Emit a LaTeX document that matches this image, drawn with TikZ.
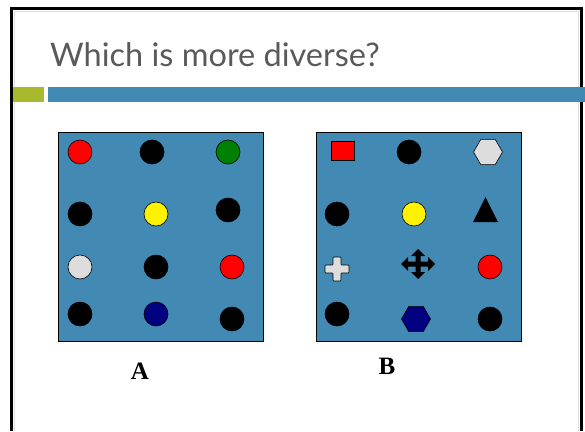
\documentclass[tikz,border=0pt]{standalone}
\usepackage{fontspec}
\usetikzlibrary{shapes.geometric}
\newfontfamily\titlefont{Lato}
\newfontfamily\labelfont{Liberation Serif}
\definecolor{slideblue}{RGB}{66,138,179}
\definecolor{slidegreen}{RGB}{169,185,45}
\definecolor{titlegray}{RGB}{90,90,90}
\definecolor{navy}{RGB}{0,0,128}
\definecolor{darkgreen}{RGB}{0,128,0}
\definecolor{pale}{RGB}{221,221,221}
\begin{document}
\begin{tikzpicture}[x=1pt,y=-1pt,
  dot/.style={circle,draw=black,line width=0.6pt,inner sep=0pt,minimum size=24pt},
  hexa/.style={regular polygon,regular polygon sides=6,draw=black,line width=0.6pt,inner sep=0pt,minimum size=29pt},
  panel/.style={draw=black,line width=1pt,fill=slideblue},
  letter/.style={font=\labelfont\bfseries\fontsize{25}{27}\selectfont}]
\useasboundingbox[fill=white] (0,0) rectangle (585,431);
% slide frame and bars
\draw[pale,line width=0.6pt] (14,431)--(14,11)--(578,11)--(578,431);
\draw[line width=3pt] (11.5,431)--(11.5,8.5)--(581.5,8.5)--(581.5,431);
\fill[slidegreen] (13,87) rectangle (44,102);
\fill[slideblue] (48,87) rectangle (585,102);
\node[anchor=base west,inner sep=0pt,text=titlegray,font=\titlefont\fontsize{32.5}{34}\selectfont] (title) at (50,66) {Which is more diverse?};
% panel A
\draw[panel] (58,132) rectangle (263,341);
\foreach \n/\x/\y/\c in {a1/80/152/red,a2/152/152/black,a3/228/152/darkgreen,
  a4/80/214/black,a5/156/214/yellow,a6/228/210/black,
  a7/80/267/pale,a8/156/267/black,a9/232/267/red,
  a10/80/314/black,a11/156/314/navy,a12/232/319/black}
  {\node[dot,fill=\c] (\n) at (\x,\y) {};}
% panel B
\draw[panel] (316,132) rectangle (521,341);
\node[draw=black,line width=0.6pt,fill=red,inner sep=0pt,minimum width=23pt,minimum height=19pt] (b1) at (342.5,150.5) {};
\foreach \n/\x/\y/\c in {b2/409/152/black,b4/337/214/black,b5/414/214/yellow,
  b9/490/267/red,b10/337/314/black,b12/490/319/black}
  {\node[dot,fill=\c] (\n) at (\x,\y) {};}
\node[hexa,fill=pale] (b3) at (488,152) {};
\node[hexa,fill=navy] (b11) at (416,319) {};
\node[isosceles triangle,isosceles triangle stretches,shape border rotate=90,fill=black,inner sep=0pt,
  minimum width=25pt,minimum height=25pt] (b6) at (485.5,214.5) {};
\coordinate (b7) at (337,269);
\draw[fill=pale,line width=0.6pt,rounded corners=0.8pt] (b7) ++(-4,-12) -- ++(8,0) -- ++(0,8) -- ++(8,0) -- ++(0,8)
  -- ++(-8,0) -- ++(0,8) -- ++(-8,0) -- ++(0,-8) -- ++(-8,0) -- ++(0,-8) -- ++(8,0) -- cycle;
\coordinate (b8) at (418,264);
\fill[shift={(b8)}] (17,0) -- (10,-7) -- (10,-2.5) -- (2.5,-2.5) -- (2.5,-8) -- (7,-8) -- (0,-15) -- (-7,-8)
  -- (-2.5,-8) -- (-2.5,-2.5) -- (-10,-2.5) -- (-10,-7) -- (-17,0) -- (-10,7) -- (-10,2.5) -- (-2.5,2.5)
  -- (-2.5,8) -- (-7,8) -- (0,15) -- (7,8) -- (2.5,8) -- (2.5,2.5) -- (10,2.5) -- (10,7) -- cycle;
% labels
\node[letter] (labA) at (140,371) {A};
\node[letter] (labB) at (387,366) {B};
\end{tikzpicture}
\end{document}
